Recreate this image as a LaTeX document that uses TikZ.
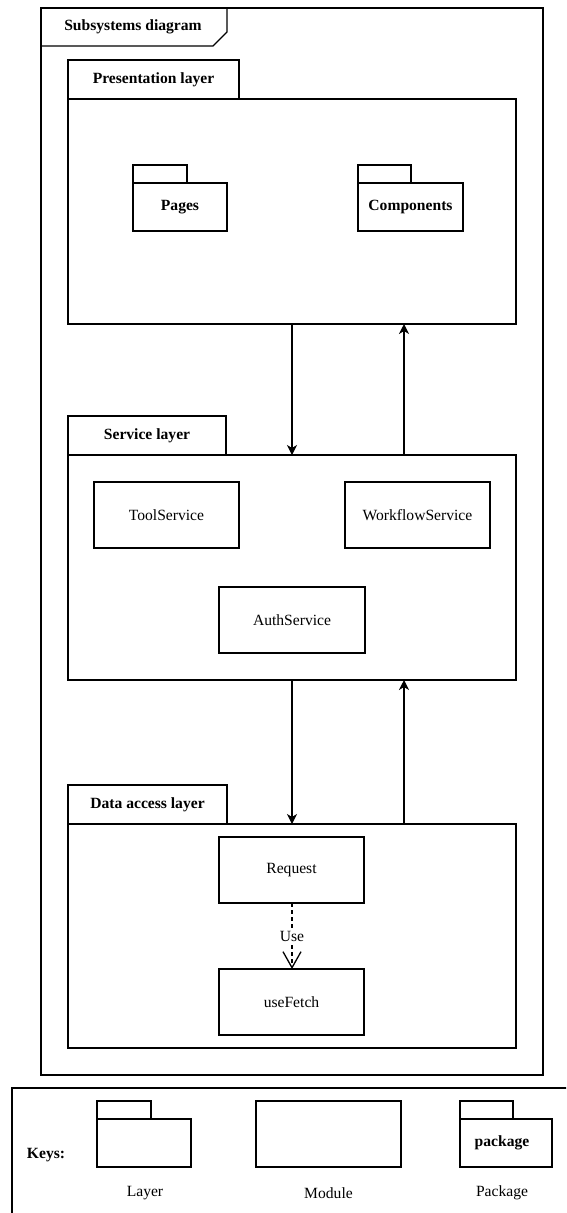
\documentclass[tikz,border=0pt]{standalone}
\usepackage{fontspec}
\setmainfont{Liberation Serif}
\usetikzlibrary{arrows.meta}
\tikzset{
  shp/.style={draw, line width=1.3pt, rectangle, inner sep=0pt, outer sep=0pt},
  lbl/.style={font=\fontsize{15.6}{18}\selectfont, inner sep=0pt},
  blbl/.style={font=\fontsize{15.6}{18}\selectfont\bfseries, inner sep=0pt},
  modbox/.style={shp, lbl},
  tabbox/.style={shp, blbl},
  flow/.style={-{Stealth[length=10pt,width=10pt,inset=3pt]}, line width=1.3pt},
  usearrow/.style={-{Straight Barb[length=16pt,width=18pt,line width=1.3pt]}, dash pattern=on 4pt off 3pt, line width=1.3pt},
}
\begin{document}
\begin{tikzpicture}[x=1pt, y=-1pt, line width=1.3pt]
\clip (0,0) rectangle (566,1213);
\fill[white] (0,0) rectangle (566,1213);

% outer frame
\node[shp, minimum width=502pt, minimum height=1067pt] (frame) at (292,541.5) {};
\draw (frame.north west |- 0,46) -- (213,46) -- (227,32) -- (227,8);
\node[blbl] (frametitle) at (133,27) {Subsystems diagram};

% presentation layer
\node[tabbox, minimum width=171pt, minimum height=39pt] (prestab) at (153.5,79.5) {Presentation layer};
\node[shp, minimum width=448pt, minimum height=225pt] (pres) at (292,211.5) {};
\node[shp, minimum width=54pt, minimum height=18pt] (pagestab) at (160,174) {};
\node[tabbox, minimum width=94pt, minimum height=48pt] (pages) at (180,207) {Pages};
\node[shp, minimum width=53pt, minimum height=18pt] (comptab) at (384.5,174) {};
\node[tabbox, minimum width=105pt, minimum height=48pt] (comp) at (410.5,207) {Components};

% service layer
\node[tabbox, minimum width=158pt, minimum height=39pt] (svctab) at (147,435.5) {Service layer};
\node[shp, minimum width=448pt, minimum height=225pt] (svc) at (292,567.5) {};
\node[modbox, minimum width=145pt, minimum height=66pt] (tool) at (166.5,515) {ToolService};
\node[modbox, minimum width=145pt, minimum height=66pt] (wf) at (417.5,515) {WorkflowService};
\node[modbox, minimum width=146pt, minimum height=66pt] (auth) at (292,620) {AuthService};

% data access layer
\node[tabbox, minimum width=159pt, minimum height=39pt] (datatab) at (147.5,804.5) {Data access layer};
\node[shp, minimum width=448pt, minimum height=224pt] (data) at (292,936) {};
\node[modbox, minimum width=145pt, minimum height=66pt] (req) at (291.5,870) {Request};
\node[modbox, minimum width=145pt, minimum height=66pt] (fetch) at (291.5,1002) {useFetch};

% connectors
\coordinate (dn) at (292,0);
\coordinate (up) at (404,0);
\draw[flow] (pres.south -| dn) -- (svc.north -| dn);
\draw[flow] (svc.north -| up) -- (pres.south -| up);
\draw[flow] (svc.south -| dn) -- (data.north -| dn);
\draw[flow] (data.north -| up) -- (svc.south -| up);
\draw[usearrow] (req.south -| dn) -- (fetch.north -| dn);
\node[lbl, fill=white, inner sep=1pt] (uselbl) at (292,936) {Use};

% keys
\node[shp, minimum width=600pt, minimum height=160pt, anchor=north west] (keys) at (12,1088) {};
\node[blbl] (keyslbl) at (46,1155) {Keys:};
\node[shp, minimum width=54pt, minimum height=18pt] (layertab) at (124,1110) {};
\node[shp, minimum width=94pt, minimum height=48pt] (layericon) at (144,1143) {};
\node[lbl] (layerlbl) at (145,1193) {Layer};
\node[shp, minimum width=145pt, minimum height=66pt] (modicon) at (328.5,1134) {};
\node[lbl] (modlbl) at (328.5,1193) {Module};
\node[shp, minimum width=53pt, minimum height=18pt] (pkgtab) at (486.5,1110) {};
\node[tabbox, minimum width=92pt, minimum height=48pt] (pkgicon) at (506,1143) {\hspace*{-8pt}package};
\node[lbl] (pkglbl) at (502,1193) {Package};
\end{tikzpicture}
\end{document}
